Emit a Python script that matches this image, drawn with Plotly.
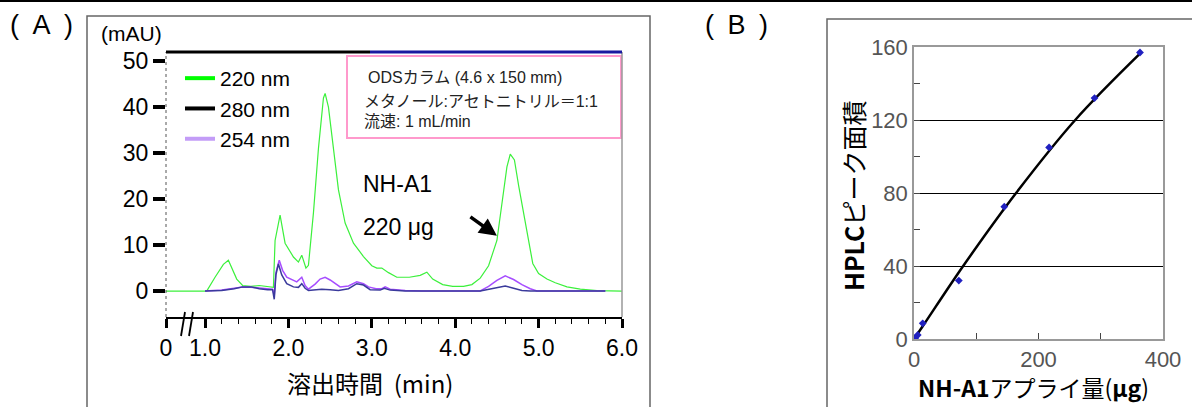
import plotly.graph_objects as go

W, H = 1192, 407

# ---------------- Panel A data (chromatogram) ----------------
t_220 = [0.532, 1.0, 1.02, 1.12, 1.22, 1.28, 1.32, 1.38, 1.45, 1.55, 1.65, 1.75, 1.82,
         1.84, 1.90, 1.96, 2.06, 2.12, 2.16, 2.21, 2.24, 2.30, 2.36, 2.42, 2.44, 2.48,
         2.54, 2.60, 2.68, 2.78, 2.90, 3.00, 3.06, 3.12, 3.20, 3.30, 3.45, 3.58, 3.66,
         3.73, 3.85, 3.97, 4.10, 4.20, 4.30, 4.40, 4.50, 4.57, 4.62, 4.66, 4.71, 4.76,
         4.84, 4.93, 5.00, 5.10, 5.20, 5.34, 5.50, 5.70, 6.00]
v_220 = [0, 0, 0, 3.0, 5.8, 6.7, 5.0, 2.6, 1.2, 1.0, 1.2, 0.9, 0.8,
         11, 16.5, 10.4, 7.4, 6.3, 7.8, 5.0, 5.6, 17, 31, 42, 43, 40,
         31, 22, 14.8, 10.4, 7.5, 5.5, 5.0, 5.0, 4.0, 3.0, 3.0, 3.4, 4.1,
         2.6, 1.4, 1.0, 1.0, 1.4, 2.8, 5.5, 11, 20, 27, 29.8, 28.5, 23,
         14.8, 6.0, 3.8, 2.6, 1.8, 0.9, 0.4, 0.1, 0]

t_254 = [1.0, 1.2, 1.35, 1.45, 1.55, 1.65, 1.75, 1.81, 1.83, 1.85, 1.89, 1.93, 1.98,
         2.10, 2.16, 2.20, 2.24, 2.32, 2.38, 2.44, 2.50, 2.62, 2.72, 2.82, 2.90, 2.96,
         3.05, 3.12, 3.16, 3.22, 3.40, 3.60, 4.30, 4.40, 4.50, 4.60, 4.70, 4.80, 4.90,
         4.98, 5.30, 5.80]
v_254 = [0, 0.2, 0.6, 0.9, 0.8, 0.6, 0.4, 0.4, -1.0, 4.0, 6.7, 4.5, 3.0,
         2.0, 3.0, 1.2, 0.4, 1.5, 2.6, 3.0, 2.4, 0.9, 1.1, 2.0, 1.6, 0.9,
         0.5, 0.5, 0.9, 0.4, 0.1, 0, 0, 1.0, 2.3, 3.3, 2.5, 1.4, 0.5,
         0, 0, 0]

t_280 = [1.0, 1.2, 1.35, 1.45, 1.55, 1.65, 1.75, 1.81, 1.83, 1.85, 1.88, 1.92, 1.98,
         2.06, 2.12, 2.16, 2.20, 2.24, 2.30, 2.40, 2.50, 2.60, 2.72, 2.82, 2.90, 2.98,
         3.10, 3.15, 3.22, 3.40, 4.30, 4.45, 4.60, 4.70, 4.80, 4.90, 5.80]
v_280 = [0, 0.1, 0.5, 0.9, 0.9, 0.5, 0.3, 0.3, -1.8, 3.5, 5.9, 3.5, 1.6,
         0.9, 0.8, 1.6, 0.6, 0.1, 0.2, 0.4, 0.3, 0.1, 0.5, 1.6, 1.3, 0.3,
         0.2, 0.6, 0.2, 0, 0, 0.5, 1.1, 0.6, 0.1, 0, 0]

x_tickvals_A = [0.532, 1, 2, 3, 4, 5, 6]
x_ticktext_A = ["0", "1.0", "2.0", "3.0", "4.0", "5.0", "6.0"]
x_minor_A = [1.2, 1.4, 1.6, 1.8, 2.2, 2.4, 2.6, 2.8, 3.2, 3.4, 3.6, 3.8,
             4.2, 4.4, 4.6, 4.8, 5.2, 5.4, 5.6, 5.8]
y_tickvals_A = [0, 10, 20, 30, 40, 50]

# ---------------- Panel B data (calibration) ----------------
amount_ug = [2, 6, 14, 72, 145, 217, 290, 363]
peak_area = [0.5, 2.2, 8.6, 32, 72.5, 105, 132, 157]
fit_x = [0, 14, 79, 164, 259, 365]
fit_y = [0, 7, 40, 80, 120, 157]

GREEN = "#3cf03c"
PURPLE = "#a64dff"
NAVY = "#3a3a9c"
FONT = "Liberation Sans, Arial, Noto Sans CJK JP, sans-serif"
JFONT = "Noto Sans CJK JP, Liberation Sans, sans-serif"
MIXFONT = "Liberation Sans, Noto Sans CJK JP, sans-serif"


def px(x):
    return x / W


def py(y):
    return 1 - y / H


fig = go.Figure()

fig.add_trace(go.Scatter(x=t_220, y=v_220, mode="lines", line=dict(color=GREEN, width=1.2),
                         showlegend=False, xaxis="x", yaxis="y"))
fig.add_trace(go.Scatter(x=t_254, y=v_254, mode="lines", line=dict(color=PURPLE, width=1.5),
                         showlegend=False, xaxis="x", yaxis="y"))
fig.add_trace(go.Scatter(x=t_280, y=v_280, mode="lines", line=dict(color=NAVY, width=1.5),
                         showlegend=False, xaxis="x", yaxis="y"))
for name, col in [("220 nm", "#00ff00"), ("280 nm", "#000000"), ("254 nm", "#c39cf7")]:
    fig.add_trace(go.Scatter(x=[None], y=[None], mode="lines", name=name,
                             line=dict(color=col, width=4), xaxis="x", yaxis="y"))

fig.add_trace(go.Scatter(x=fit_x, y=fit_y, mode="lines", line=dict(color="black", width=2.5, shape="spline"),
                         showlegend=False, xaxis="x2", yaxis="y2"))
fig.add_trace(go.Scatter(x=amount_ug, y=peak_area, mode="markers",
                         marker=dict(symbol="diamond", size=6, color="#2020c0"),
                         showlegend=False, xaxis="x2", yaxis="y2"))

A_x0, A_x1, A_y0, A_y1 = 166, 622, 52, 317
B_x0, B_x1, B_y0, B_y1 = 914, 1163, 47, 339

fig.update_layout(
    width=W, height=H, margin=dict(l=0, r=0, t=0, b=0, autoexpand=False),
    paper_bgcolor="white", plot_bgcolor="white",
    font=dict(family=FONT, color="black"),
    xaxis=dict(domain=[px(A_x0), px(A_x1)], range=[0.532, 6.0], showgrid=False, zeroline=False,
               tickmode="array", tickvals=x_tickvals_A, ticktext=x_ticktext_A,
               ticks="outside", ticklen=9, tickwidth=3, tickcolor="black",
               showline=True, linecolor="black", linewidth=2,
               tickfont=dict(size=23, family=FONT),
               minor=dict(tickmode="array", tickvals=x_minor_A, ticks="outside", ticklen=5,
                          tickwidth=1, tickcolor="black"),
               anchor="y"),
    yaxis=dict(domain=[py(A_y1), py(A_y0)], range=[-5.65, 52.0], showgrid=False, zeroline=False,
               tickmode="array", tickvals=y_tickvals_A, ticks="outside", ticklen=12, tickwidth=4,
               tickcolor="black", showline=False, tickfont=dict(size=23, family=FONT),
               anchor="x"),
    xaxis2=dict(domain=[px(B_x0), px(B_x1)], range=[0, 400], showgrid=False, zeroline=False,
                tickvals=[0, 200, 400], ticks="inside", ticklen=6, tickcolor="#444",
                showline=True, mirror=True, linecolor="#999", linewidth=1.5,
                tickfont=dict(size=22, color="#555", family=FONT),
                minor=dict(tickvals=[100, 300], ticks="inside", ticklen=6, tickcolor="#444"),
                anchor="y2"),
    yaxis2=dict(domain=[py(B_y1), py(B_y0)], range=[0, 160], showgrid=True, gridcolor="black",
                gridwidth=1, zeroline=False, tickvals=[0, 40, 80, 120, 160],
                ticks="inside", ticklen=6, tickcolor="#444",
                showline=True, mirror=True, linecolor="#999", linewidth=1.5,
                tickfont=dict(size=22, color="#555", family=FONT),
                minor=dict(tickvals=[20, 60, 100, 140], ticks="inside", ticklen=6, tickcolor="#444"),
                anchor="x2"),
    legend=dict(x=px(180), y=py(58), xanchor="left", yanchor="top", bgcolor="rgba(0,0,0,0)",
                font=dict(size=21, family=FONT), tracegroupgap=0, itemwidth=30),
)

shapes = []
shapes.append(dict(type="line", xref="paper", yref="paper", x0=0, x1=1, y0=py(1), y1=py(1),
                   line=dict(color="black", width=2)))
shapes.append(dict(type="rect", xref="paper", yref="paper", x0=px(87), x1=px(650), y0=py(410), y1=py(16),
                   line=dict(color="#666", width=1.5)))
shapes.append(dict(type="rect", xref="paper", yref="paper", x0=px(827), x1=px(1195), y0=py(410), y1=py(19),
                   line=dict(color="#666", width=1.5)))
shapes.append(dict(type="line", xref="paper", yref="paper", x0=px(A_x0), x1=px(A_x0), y0=py(A_y1), y1=py(A_y0),
                   line=dict(color="#555", width=1, dash="dot")))
shapes.append(dict(type="line", xref="paper", yref="paper", x0=px(A_x1), x1=px(A_x1), y0=py(A_y1), y1=py(A_y0),
                   line=dict(color="#999", width=1.5)))
shapes.append(dict(type="line", xref="paper", yref="paper", x0=px(A_x0), x1=px(370), y0=py(A_y0), y1=py(A_y0),
                   line=dict(color="black", width=3)))
shapes.append(dict(type="line", xref="paper", yref="paper", x0=px(370), x1=px(A_x1), y0=py(A_y0), y1=py(A_y0),
                   line=dict(color="#1a1aa0", width=3)))
for xb in (181, 189):
    shapes.append(dict(type="line", xref="paper", yref="paper", x0=px(xb), x1=px(xb + 4), y0=py(336), y1=py(312),
                       line=dict(color="black", width=1.8)))
shapes.append(dict(type="rect", xref="paper", yref="paper", x0=px(347), x1=px(621), y0=py(138), y1=py(56),
                   line=dict(color="#ff99cc", width=2), fillcolor="white", layer="below"))
fig.update_layout(shapes=shapes)

ann = []
ann.append(dict(text="(\u2002A\u2002)", x=px(8), y=py(25), xref="paper", yref="paper", xanchor="left", yanchor="middle",
                showarrow=False, font=dict(size=27, family=FONT)))
ann.append(dict(text="(\u2002B\u2002)", x=px(703), y=py(25), xref="paper", yref="paper", xanchor="left", yanchor="middle",
                showarrow=False, font=dict(size=27, family=FONT)))
ann.append(dict(text="(mAU)", x=px(99), y=py(33), xref="paper", yref="paper", xanchor="left", yanchor="middle",
                showarrow=False, font=dict(size=21, family=FONT)))
ann.append(dict(text="溶出時間  (min)", x=px(370), y=py(382), xref="paper", yref="paper", xanchor="center",
                yanchor="middle", showarrow=False, font=dict(size=24, family=JFONT)))
ann.append(dict(text="ODSカラム (4.6 x 150 mm)", x=px(366), y=py(77), xref="paper", yref="paper",
                xanchor="left", yanchor="middle", showarrow=False, font=dict(size=16, family=MIXFONT, color="#222")))
ann.append(dict(text="メタノール:アセトニトリル＝1:1", x=px(362), y=py(101), xref="paper", yref="paper",
                xanchor="left", yanchor="middle", showarrow=False, font=dict(size=16, family=MIXFONT, color="#222")))
ann.append(dict(text="流速: 1 mL/min", x=px(362), y=py(121), xref="paper", yref="paper",
                xanchor="left", yanchor="middle", showarrow=False, font=dict(size=16, family=MIXFONT, color="#222")))
ann.append(dict(text="NH-A1", x=px(361), y=py(184), xref="paper", yref="paper", xanchor="left", yanchor="middle",
                showarrow=False, font=dict(size=23, family=FONT)))
ann.append(dict(text="220 μg", x=px(361), y=py(227), xref="paper", yref="paper", xanchor="left", yanchor="middle",
                showarrow=False, font=dict(size=23, family=FONT)))
ann.append(dict(text="", x=4.50, y=12.0, xref="x", yref="y", showarrow=True, arrowhead=2, arrowsize=1,
                arrowwidth=3.5, arrowcolor="black", ax=-28, ay=-20))
ann.append(dict(text="<b>HPLC</b>ピーク面積", x=px(853), y=py(196), xref="paper", yref="paper", textangle=-90,
                xanchor="center", yanchor="middle", showarrow=False, font=dict(size=25, family=JFONT)))
ann.append(dict(text="<b>NH-A1</b>アプライ量(<b>μg</b>)", x=px(1033), y=py(387), xref="paper", yref="paper",
                xanchor="center", yanchor="middle", showarrow=False, font=dict(size=23, family=JFONT)))
fig.update_layout(annotations=ann)

fig.write_html("out.html", config={"displayModeBar": False},
               post_script="document.body.style.margin='0';document.body.style.overflow='hidden';")
